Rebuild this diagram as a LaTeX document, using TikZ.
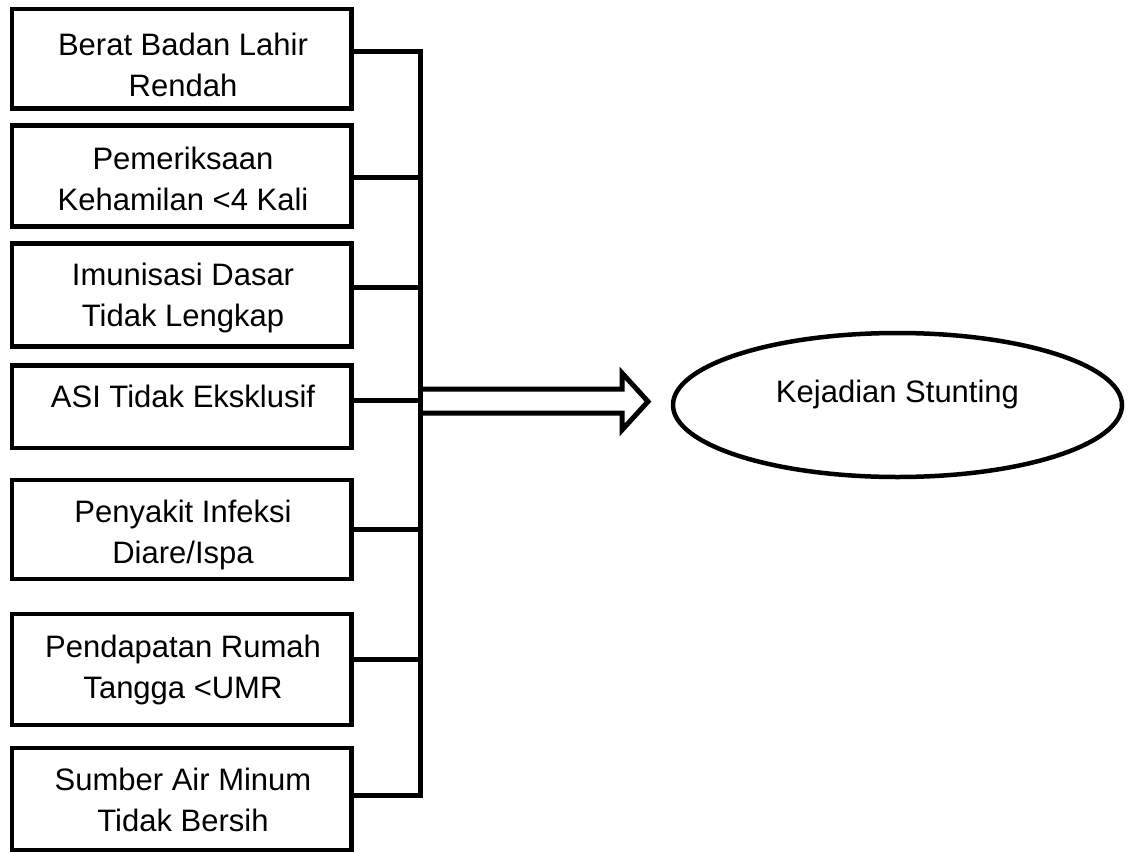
\documentclass[tikz,border=0pt]{standalone}
\usepackage{fontspec}
\setmainfont{Liberation Sans}
\usetikzlibrary{shapes.geometric}
\begin{document}
\begin{tikzpicture}[x=1pt,y=-1pt,
  box/.style={draw, line width=4.8pt, rectangle, minimum width=339.5pt, inner sep=0pt},
  txt/.style={font=\fontsize{31}{41}\selectfont, align=center, anchor=north, inner sep=0pt},
  conn/.style={line width=5pt, line join=miter},
  oval/.style={draw, ellipse, line width=4.5pt, inner sep=0pt}]
\useasboundingbox (0,0) rectangle (1130,852);

% boxes
\node[box, minimum height=99.5pt]  (b1) at (181.75,58.75) {};
\node[box, minimum height=101.4pt] (b2) at (181.75,176) {};
\node[box, minimum height=103.4pt] (b3) at (181.75,295) {};
\node[box, minimum height=82.7pt]  (b4) at (181.75,406.65) {};
\node[box, minimum height=99pt]    (b5) at (181.75,529.5) {};
\node[box, minimum height=111pt]   (b6) at (181.75,669.5) {};
\node[box, minimum height=102pt]   (b7) at (181.75,799) {};

% texts (anchored at the top of the first line)
\node[txt] (t1) at (183,32.5)  {Berat Badan Lahir\\Rendah};
\node[txt] (t2) at (183,146.5) {Pemeriksaan\\Kehamilan <4 Kali};
\node[txt] (t3) at (183,262.5) {Imunisasi Dasar\\Tidak Lengkap};
\node[txt] (t4) at (183,384.5) {ASI Tidak Eksklusif};
\node[txt] (t5) at (183,499.5) {Penyakit Infeksi\\Diare/Ispa};
\node[txt] (t6) at (183,634.5) {Pendapatan Rumah\\Tangga <UMR};
\node[txt] (t7) at (183,767.5) {Sumber Air Minum\\Tidak Bersih};

% bar junctions
\coordinate (j1) at (420,51);
\coordinate (j2) at (420,177);
\coordinate (j3) at (420,287);
\coordinate (j4) at (420,400);
\coordinate (j5) at (420,529);
\coordinate (j6) at (420,659);
\coordinate (j7) at (420,795);

\draw[conn] (b1.east |- j1) -- (j1) -- (j7) -- (b7.east |- j7);
\draw[conn] (b2.east |- j2) -- (j2);
\draw[conn] (b3.east |- j3) -- (j3);
\draw[conn] (b4.east |- j4) -- (j4);
\draw[conn] (b5.east |- j5) -- (j5);
\draw[conn] (b6.east |- j6) -- (j6);

% target
\node[oval, minimum width=449pt, minimum height=144pt] (st) at (897.5,405) {};
\node[txt, anchor=base] (kt) at (897.5,402) {Kejadian Stunting};

% hollow block arrow from bar to ellipse
\coordinate (a1) at (420,389);
\coordinate (a2) at (420,413);
\draw[conn] (a1) -- (622,389) -- (622,373) -- (648,401.5) -- (622,430) -- (622,413) -- (a2);
\end{tikzpicture}
\end{document}
